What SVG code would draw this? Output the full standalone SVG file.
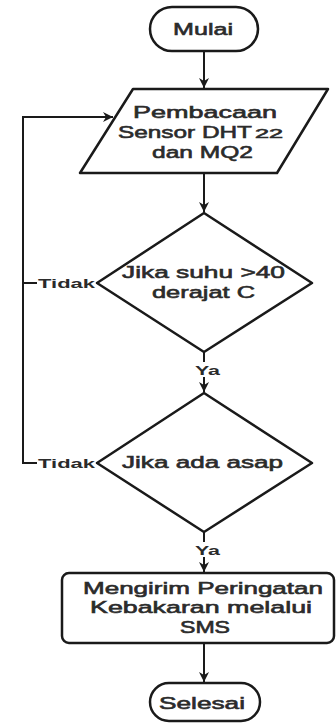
<svg xmlns="http://www.w3.org/2000/svg" width="336" height="724" viewBox="0 0 336 724">
<style>
.s{fill:#fff;stroke:#1a1a1a;stroke-width:2.5;stroke-linejoin:round}
.c{fill:none;stroke:#1a1a1a;stroke-width:2}
.t{font-family:"Liberation Sans",Arial,sans-serif;font-size:17px;fill:#2b2b2b;stroke:#2b2b2b;stroke-width:0.6;text-anchor:start}
.l{font-family:"Liberation Sans",Arial,sans-serif;font-size:13px;fill:#2b2b2b;font-weight:bold}
</style>
<defs>
<marker id="a" viewBox="0 0 10 10" refX="10" refY="5" markerWidth="10" markerHeight="10" markerUnits="userSpaceOnUse" orient="auto">
<path d="M0,0 L10,5 L0,10 L3,5 z" fill="#1a1a1a"/>
</marker>
</defs>
<rect width="336" height="724" fill="#fff"/>
<g id="connectors">
<path class="c" d="M204,51 V88" marker-end="url(#a)"/>
<path class="c" d="M204,173 V212" marker-end="url(#a)"/>
<path class="c" d="M204,352 V392" marker-end="url(#a)"/>
<path class="c" d="M204,532 V572" marker-end="url(#a)"/>
<path class="c" d="M204,643 V682" marker-end="url(#a)"/>
<path class="c" d="M97,283 H23 V117 H113" marker-end="url(#a)"/>
<path class="c" d="M97,463 H23 V283"/>
<rect x="37" y="276" width="59" height="15" fill="#fff"/>
<text class="l" x="38" y="288" textLength="57" lengthAdjust="spacingAndGlyphs">Tidak</text>
<rect x="37" y="456" width="59" height="15" fill="#fff"/>
<text class="l" x="38" y="468" textLength="57" lengthAdjust="spacingAndGlyphs">Tidak</text>
<rect x="193" y="362" width="29" height="15" fill="#fff"/>
<text class="l" x="195" y="375" textLength="25" lengthAdjust="spacingAndGlyphs">Ya</text>
<rect x="193" y="542" width="29" height="15" fill="#fff"/>
<text class="l" x="195" y="555" textLength="25" lengthAdjust="spacingAndGlyphs">Ya</text>
</g>
<g id="mulai">
<rect class="s" x="150" y="7" width="108" height="44" rx="22"/>
<text class="t" x="173" y="35" textLength="60" lengthAdjust="spacingAndGlyphs">Mulai</text>
</g>
<g id="baca">
<path class="s" d="M133,89 H328 L277,173 H80 Z"/>
<text class="t" x="133" y="118" textLength="144" lengthAdjust="spacingAndGlyphs">Pembacaan</text>
<text class="t" x="118" y="138" textLength="134" lengthAdjust="spacingAndGlyphs">Sensor DHT</text>
<text class="t" x="255" y="138" style="font-size:12px" textLength="28" lengthAdjust="spacingAndGlyphs">22</text>
<text class="t" x="152" y="158" textLength="101" lengthAdjust="spacingAndGlyphs">dan MQ2</text>
</g>
<g id="suhu">
<path class="s" d="M204,213 L312,283 L204,352 L97,283 Z"/>
<text class="t" x="122" y="278" textLength="163" lengthAdjust="spacingAndGlyphs">Jika suhu &gt;40</text>
<text class="t" x="152" y="298" textLength="103" lengthAdjust="spacingAndGlyphs">derajat C</text>
</g>
<g id="asap">
<path class="s" d="M204,393 L312,463 L204,532 L97,463 Z"/>
<text class="t" x="122" y="468" textLength="161" lengthAdjust="spacingAndGlyphs">Jika ada asap</text>
</g>
<g id="kirim">
<rect class="s" x="62" y="573" width="272" height="70" rx="7"/>
<text class="t" x="83" y="594" textLength="240" lengthAdjust="spacingAndGlyphs">Mengirim Peringatan</text>
<text class="t" x="90" y="613" textLength="222" lengthAdjust="spacingAndGlyphs">Kebakaran melalui</text>
<text class="t" x="180" y="633" textLength="50" lengthAdjust="spacingAndGlyphs">SMS</text>
</g>
<g id="selesai">
<rect class="s" x="150" y="683" width="110" height="38" rx="19"/>
<text class="t" x="159" y="709" textLength="86" lengthAdjust="spacingAndGlyphs">Selesai</text>
</g>
</svg>
